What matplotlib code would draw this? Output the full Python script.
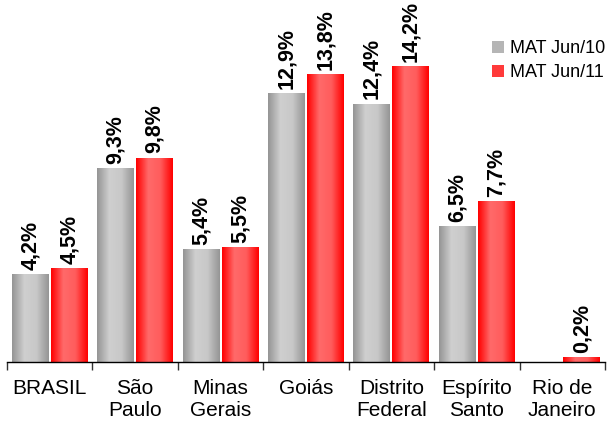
import matplotlib
matplotlib.use("Agg")
import matplotlib.pyplot as plt
import numpy as np
from matplotlib.patches import Patch
from matplotlib.colors import LinearSegmentedColormap

categories = ["BRASIL", "São\nPaulo", "Minas\nGerais", "Goiás", "Distrito\nFederal", "Espírito\nSanto", "Rio de\nJaneiro"]
jun10 = [4.2, 9.3, 5.4, 12.9, 12.4, 6.5, None]
jun11 = [4.5, 9.8, 5.5, 13.8, 14.2, 7.7, 0.2]
series_names = ["MAT Jun/10", "MAT Jun/11"]

plt.rcParams['font.family'] = ['Liberation Sans', 'DejaVu Sans']

fig = plt.figure(figsize=(6.12, 4.23), dpi=100)
ax = fig.add_axes([7/612, 61/423, 598/612, 362/423])

gray_cmap = LinearSegmentedColormap.from_list("g", ["#959595", "#cfcfcf", "#c8c8c8", "#959595"])
red_cmap = LinearSegmentedColormap.from_list("r", ["#ff0000", "#ff6a6a", "#ff5c5c", "#ff0000"])

width = 0.433
offset = 0.228
grad = np.linspace(0, 1, 64).reshape(1, -1)

def draw_bar(x, h, cmap):
    x0 = x - width / 2
    x1 = x + width / 2
    ax.imshow(grad, cmap=cmap, extent=[x0, x1, 0, h], aspect='auto',
              interpolation='bicubic', zorder=2)

def fmt(v):
    return ("%.1f%%" % v).replace(".", ",")

for i, (a, b) in enumerate(zip(jun10, jun11)):
    if a is not None:
        draw_bar(i - offset, a, gray_cmap)
        ax.annotate(fmt(a), (i - offset, a), xytext=(0, 3.5), textcoords='offset points',
                    rotation=90, ha='center', va='bottom', fontsize=15.5, fontweight='bold')
    if b is not None:
        draw_bar(i + offset, b, red_cmap)
        ax.annotate(fmt(b), (i + offset, b), xytext=(0, 3.5), textcoords='offset points',
                    rotation=90, ha='center', va='bottom', fontsize=15.5, fontweight='bold')

ax.set_xlim(-0.5, len(categories) - 0.5)
ax.set_ylim(0, 17.4)

for s in ['top', 'right', 'left']:
    ax.spines[s].set_visible(False)
ax.spines['bottom'].set_color('black')
ax.spines['bottom'].set_linewidth(1.0)
ax.set_yticks([])

ax.set_xticks(np.arange(-0.5, len(categories)), minor=False)
ax.set_xticklabels([])
ax.tick_params(axis='x', which='major', length=6, width=1, color='#333333', direction='out')
ax.set_xticks(np.arange(len(categories)), minor=True)
ax.set_xticklabels(categories, minor=True, fontsize=15, linespacing=1.25)
ax.tick_params(axis='x', which='minor', length=0, pad=12)

handles = [Patch(facecolor="#b5b5b5", edgecolor='none'), Patch(facecolor="#ff3a3a", edgecolor='none')]
fig.legend(handles, series_names, loc='upper left', bbox_to_anchor=(492/612, 1 - 40/423),
           frameon=False, fontsize=13, handlelength=0.65, handleheight=0.65,
           handletextpad=0.35, labelspacing=0.4, borderaxespad=0, borderpad=0)

fig.savefig("out.png", dpi=100)
